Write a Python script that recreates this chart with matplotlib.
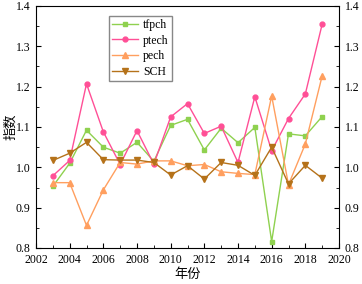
import matplotlib
matplotlib.use("Agg")
import matplotlib.pyplot as plt
from matplotlib.ticker import MultipleLocator

plt.rcParams["font.family"] = ["Liberation Serif", "Noto Sans CJK SC"]

years = list(range(2003, 2020))
tfpch = [0.953, 1.010, 1.092, 1.050, 1.035, 1.062, 1.015, 1.104, 1.119, 1.043,
         1.097, 1.061, 1.099, 0.816, 1.083, 1.078, 1.126]
ptech = [0.979, 1.017, 1.207, 1.088, 1.007, 1.091, 1.008, 1.125, 1.158, 1.084,
         1.102, 1.012, 1.175, 1.041, 1.121, 1.182, 1.355]
pech = [0.962, 0.962, 0.856, 0.944, 1.012, 1.008, 1.016, 1.016, 1.004, 1.007,
        0.989, 0.985, 0.982, 1.177, 0.957, 1.058, 1.227]
sch = [1.017, 1.035, 1.062, 1.019, 1.018, 1.018, 1.012, 0.981, 1.004, 0.971,
       1.012, 1.005, 0.980, 1.050, 0.959, 1.005, 0.973]

fig = plt.figure(figsize=(3.62, 2.84), dpi=100)
ax = fig.add_axes([36 / 362, 36 / 284, 303 / 362, 242 / 284])

ax.plot(years, tfpch, color="#8fd14f", marker="s", ms=3.5, lw=1, label="tfpch")
ax.plot(years, ptech, color="#ff4f96", marker="o", ms=3.5, lw=1, label="ptech")
ax.plot(years, pech, color="#ff9f5f", marker="^", ms=4, lw=1, label="pech")
ax.plot(years, sch, color="#b5721a", marker="v", ms=4, lw=1, label="SCH")

ax.set_xlim(2002, 2020)
ax.set_ylim(0.8, 1.4)
ax.xaxis.set_major_locator(MultipleLocator(2))
ax.xaxis.set_minor_locator(MultipleLocator(1))
ax.yaxis.set_major_locator(MultipleLocator(0.1))
ax.yaxis.set_minor_locator(MultipleLocator(0.05))
ax.yaxis.set_major_formatter(matplotlib.ticker.FormatStrFormatter("%.1f"))
ax.tick_params(which="both", direction="in", left=True, right=True, top=False,
               labelright=True, labelsize=8.5)
ax.tick_params(axis="y", pad=4)
ax.tick_params(axis="x", pad=4)
ax.tick_params(which="major", length=3.5)
ax.tick_params(which="minor", length=2)

ax.set_xlabel("年份", fontsize=9.5)
ax.set_ylabel("指数", fontsize=9.5)
ax.xaxis.set_label_coords(0.5, -0.083)
ax.yaxis.set_label_coords(-0.063, 0.5)

ax.legend(loc="upper left", bbox_to_anchor=(0.22, 0.985), fontsize=8.5,
          frameon=True, fancybox=False, edgecolor="#888888", framealpha=1,
          handlelength=2.2, borderpad=0.3, labelspacing=0.3, handletextpad=0.4)

fig.savefig("out.png", dpi=100)
